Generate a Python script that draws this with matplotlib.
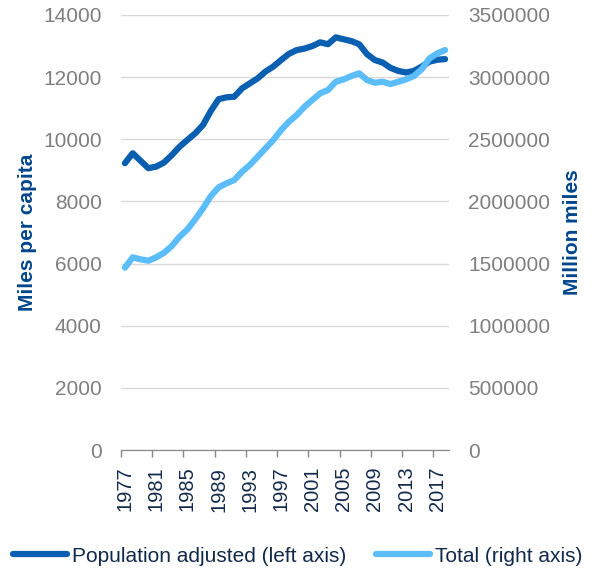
import matplotlib.pyplot as plt
from matplotlib.ticker import FixedLocator, FuncFormatter

plt.rcParams['font.family'] = ['Liberation Sans', 'DejaVu Sans']

years = list(range(1977, 2019))
per_capita = [9230, 9550, 9310, 9070, 9120, 9250, 9490, 9760, 9980, 10190,
              10460, 10910, 11290, 11350, 11370, 11640, 11800, 11960, 12180, 12340,
              12550, 12750, 12870, 12920, 13000, 13120, 13060, 13280, 13220, 13160,
              13060, 12740, 12550, 12470, 12300, 12200, 12150, 12200, 12340, 12500,
              12560, 12580]
total = [1467000, 1550000, 1534000, 1523000, 1550000, 1587000, 1641000, 1716000, 1775000, 1856000,
         1944000, 2043000, 2113000, 2145000, 2172000, 2239000, 2293000, 2360000, 2427000, 2494000,
         2574000, 2641000, 2695000, 2762000, 2816000, 2870000, 2896000, 2963000, 2982000, 3009000,
         3031000, 2977000, 2955000, 2963000, 2944000, 2963000, 2982000, 3009000, 3063000, 3151000,
         3191000, 3218000]

dark = '#0B5FB0'
light = '#5BBDF9'
navy = '#00468C'
label_navy = '#12294A'
grey = '#7F7F7F'

fig = plt.figure(figsize=(5.95, 5.70), dpi=100)
ax = fig.add_axes([121 / 595, 120 / 570, 328 / 595, 435 / 570])
ax2 = ax.twinx()

l1, = ax.plot(years, per_capita, color=dark, lw=4.5, solid_capstyle='round', solid_joinstyle='round',
              label='Population adjusted (left axis)', zorder=3)
l2, = ax2.plot(years, total, color=light, lw=4.5, solid_capstyle='round', solid_joinstyle='round',
               label='Total (right axis)', zorder=3)

ax.set_xlim(1976.5, 2018.5)
ax.set_ylim(0, 14000)
ax2.set_ylim(0, 3500000)
ax.set_yticks(range(0, 14001, 2000))
ax2.set_yticks(range(0, 3500001, 500000))
ax2.yaxis.set_major_formatter(FuncFormatter(lambda v, p: f'{int(v)}'))
ax.yaxis.grid(True, color='#D9D9D9', lw=1)
ax.set_axisbelow(True)

ax.set_xticks(years[::4])
ax.set_xticklabels([str(y) for y in years[::4]], rotation=90, color=label_navy, fontsize=14.5)
ax.xaxis.set_minor_locator(FixedLocator([1976.5 + 4 * k for k in range(11)]))
ax.tick_params(axis='x', which='major', length=0, pad=12)
ax.tick_params(axis='x', which='minor', length=5, color='#898989', width=1)
ax.tick_params(axis='y', length=0, pad=14, labelcolor=grey, labelsize=15)
ax2.tick_params(axis='y', length=0, pad=14, labelcolor=grey, labelsize=15)

for a in (ax, ax2):
    for s in ('top', 'left', 'right'):
        a.spines[s].set_visible(False)
    a.spines['bottom'].set_color('#898989')

ax.set_ylabel('Miles per capita', fontsize=15, fontweight='bold', color=navy, labelpad=4)
ax2.set_ylabel('Million miles', fontsize=15, fontweight='bold', color=navy, labelpad=9)

fig.legend(handles=[l1, l2], loc='lower center', bbox_to_anchor=(0.5, -0.025), ncol=2, frameon=False,
           fontsize=15, handlelength=2.6, handletextpad=0.25, columnspacing=1.4, labelcolor=label_navy)

fig.savefig('out.png', dpi=100)
